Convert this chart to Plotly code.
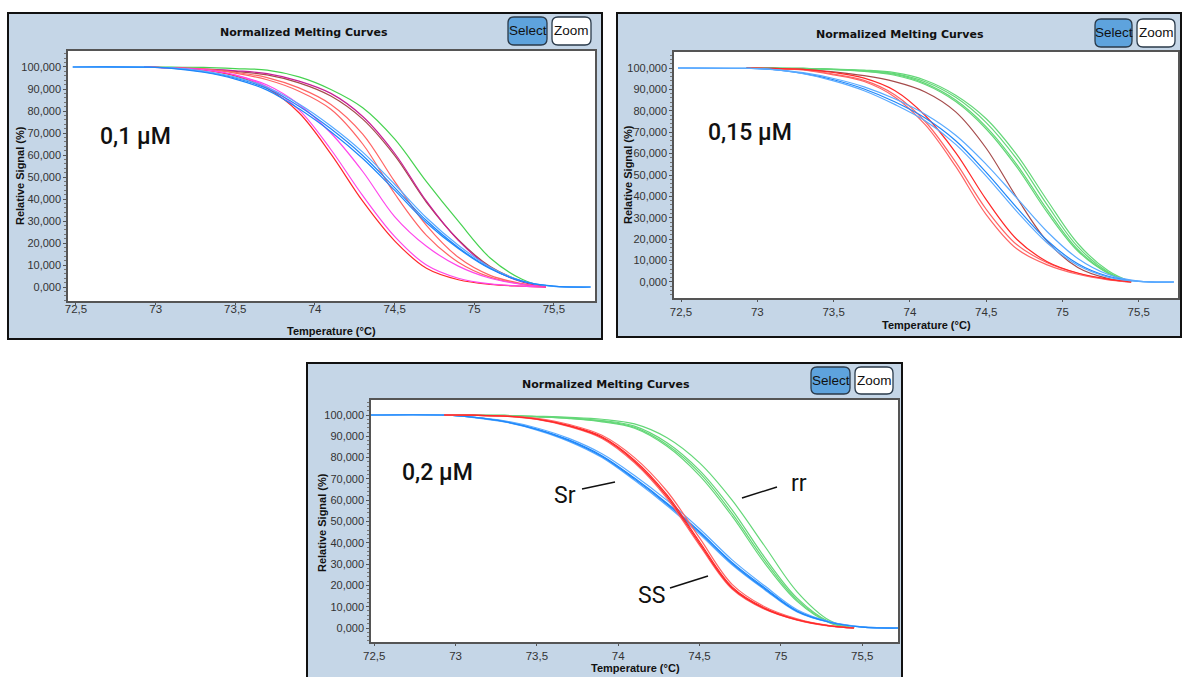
import plotly.graph_objects as go

W, H = 1182, 677

# ---------------- data ----------------
# temperatures (°C) at which the curves were read
T_OTHER = [72.93, 73.1, 73.3, 73.5, 73.7, 73.9, 74.1, 74.3, 74.5, 74.7, 74.9, 75.1, 75.3, 75.45]
T_BLUE = [72.48, 72.95, 73.1, 73.3, 73.5, 73.7, 73.9, 74.1, 74.3, 74.5, 74.7, 74.9, 75.1, 75.3, 75.5, 75.73]

# panel 1 : 0,1 µM
P1_GREEN = [100, 99.9, 99.8, 99.3, 98.6, 95.5, 89.8, 81.5, 67.3, 47.9, 29.9, 13.2, 3.5, 0]
P1_MAGENTA = [100, 99.7, 99.1, 98.3, 97.0, 93.6, 88.0, 77.5, 60.8, 39.0, 21.2, 8.8, 2.3, 0]
P1_BROWN = [100, 99.6, 98.9, 98.0, 96.4, 92.8, 86.8, 76.3, 59.8, 38.5, 21.5, 9.3, 2.6, 0]
P1_RED1 = [100, 99.6, 99.0, 97.6, 95.2, 90.5, 83.0, 69.5, 48.0, 28.0, 13.5, 5.3, 1.5, 0]
P1_RED2 = [100, 99.6, 99.1, 97.2, 94.2, 89.0, 80.8, 65.0, 42.5, 23.5, 11.3, 4.5, 1.3, 0]
P1_PINK1 = [100, 99.5, 98.7, 96.3, 91.8, 83.0, 70.0, 52.5, 32.0, 18.5, 9.5, 4.0, 1.2, 0]
P1_RED3 = [100, 99.5, 98.7, 96.0, 90.3, 79.2, 60.5, 39.0, 21.0, 8.5, 3.3, 1.2, 0.4, 0]
P1_PINK2 = [100, 99.5, 98.8, 96.3, 91.0, 80.5, 62.5, 41.5, 23.0, 10.0, 4.0, 1.4, 0.4, 0]
P1_BLUE1 = [100, 99.9, 99.5, 97.9, 95.0, 90.2, 82.2, 71.9, 59.8, 45.2, 30.2, 18.0, 8.5, 2.6, 0.3, 0]
P1_BLUE2 = [100, 99.9, 99.6, 98.1, 95.4, 90.8, 83.2, 73.2, 61.3, 46.7, 31.5, 19.0, 9.0, 2.8, 0.3, 0]
P1_BLUE3 = [100, 99.9, 99.4, 97.6, 94.5, 89.5, 81.0, 70.6, 58.4, 44.0, 29.2, 17.5, 8.3, 2.7, 0.4, 0]

# panel 2 : 0,15 µM
P2_GREEN1 = [100, 99.9, 99.8, 99.4, 98.8, 97.4, 93.6, 86.3, 74.5, 57.5, 36.0, 16.5, 4.6, 0]
P2_GREEN2 = [100, 99.9, 99.8, 99.3, 98.6, 97.0, 92.8, 85.0, 72.5, 55.0, 33.8, 15.2, 4.2, 0]
P2_GREEN3 = [100, 99.9, 99.8, 99.5, 99.0, 97.8, 94.3, 87.3, 76.3, 59.5, 38.2, 18.0, 5.2, 0]
P2_GREEN4 = [100, 99.9, 99.7, 99.2, 98.4, 96.6, 92.3, 84.3, 71.5, 53.8, 32.5, 14.5, 4.0, 0]
P2_BROWN = [100, 99.8, 99.4, 98.2, 96.4, 93.6, 88.8, 79.5, 62.5, 39.5, 19.0, 6.8, 1.6, 0]
P2_RED = [100, 99.8, 99.4, 97.9, 95.3, 89.5, 77.8, 60.5, 38.5, 20.0, 9.5, 4.2, 1.3, 0]
P2_LRED1 = [100, 99.7, 99.1, 96.8, 93.7, 86.5, 73.5, 54.0, 31.5, 15.5, 8.0, 3.6, 1.0, 0]
P2_LRED2 = [100, 99.7, 99.2, 97.1, 94.2, 87.5, 75.0, 56.0, 34.0, 17.5, 9.0, 4.1, 1.2, 0]
P2_BLUE1 = [100, 99.8, 99.3, 97.5, 94.5, 90.2, 84.2, 76.6, 66.0, 51.2, 34.8, 19.4, 8.5, 2.6, 0.3, 0]
P2_BLUE2 = [100, 99.8, 99.4, 97.8, 95.1, 91.2, 85.6, 78.4, 68.6, 55.0, 39.3, 23.5, 11.0, 3.5, 0.4, 0]
P2_BLUE3 = [100, 99.8, 99.2, 97.3, 94.0, 89.4, 83.0, 75.3, 64.3, 49.5, 33.0, 18.2, 7.8, 2.3, 0.3, 0]

# panel 3 : 0,2 µM  (rr = green, SS = red, Sr = blue)
P3_RR1 = [100, 99.9, 99.8, 99.3, 98.6, 97.4, 94.8, 87.0, 74.0, 55.5, 33.2, 14.0, 2.8, 0]
P3_RR2 = [100, 99.9, 99.7, 99.1, 98.3, 96.8, 93.8, 85.3, 71.5, 52.5, 30.5, 12.5, 2.4, 0]
P3_RR3 = [100, 99.9, 99.8, 99.4, 98.9, 98.0, 95.8, 89.3, 77.5, 60.0, 38.5, 17.0, 3.5, 0]
P3_RR4 = [100, 99.9, 99.8, 99.2, 98.5, 97.1, 94.2, 86.0, 72.8, 53.8, 31.8, 13.2, 2.6, 0]
P3_SS1 = [100, 99.9, 99.5, 98.2, 95.0, 89.8, 78.8, 62.5, 40.5, 19.3, 9.4, 4.0, 1.0, 0]
P3_SS2 = [100, 99.9, 99.4, 97.9, 94.5, 89.0, 77.5, 60.8, 38.8, 18.3, 8.8, 3.7, 0.9, 0]
P3_SS3 = [100, 99.9, 99.6, 98.4, 95.5, 90.5, 80.0, 64.2, 42.3, 20.5, 10.0, 4.3, 1.1, 0]
P3_SS4 = [100, 99.9, 99.5, 98.1, 94.8, 89.4, 78.2, 61.7, 39.6, 18.8, 9.1, 3.8, 1.0, 0]
P3_SR1 = [100, 99.9, 99.0, 97.0, 93.4, 88.2, 80.9, 70.4, 58.6, 45.3, 30.8, 18.9, 8.0, 2.8, 0.5, 0]
P3_SR2 = [100, 99.9, 98.9, 96.7, 92.9, 87.5, 80.0, 69.3, 57.4, 44.1, 29.7, 18.0, 7.5, 2.6, 0.4, 0]
P3_SR3 = [100, 99.9, 99.1, 97.3, 93.9, 88.9, 81.8, 71.6, 59.9, 46.6, 32.0, 19.8, 8.6, 3.0, 0.5, 0]
P3_SR4 = [100, 99.9, 99.0, 96.9, 93.2, 87.9, 80.5, 69.9, 58.1, 44.8, 30.3, 18.4, 7.8, 2.7, 0.4, 0]

X_TICKS = [72.5, 73, 73.5, 74, 74.5, 75, 75.5]
X_TICK_LABELS = ["72,5", "73", "73,5", "74", "74,5", "75", "75,5"]
Y_TICKS = [0, 10, 20, 30, 40, 50, 60, 70, 80, 90, 100]
Y_TICK_LABELS = ["0,000", "10,000", "20,000", "30,000", "40,000", "50,000",
                 "60,000", "70,000", "80,000", "90,000", "100,000"]

TITLE = "Normalized Melting Curves"
X_TITLE = "Temperature (°C)"
Y_TITLE = "Relative Signal (%)"
CONC_LABELS = ["0,1 µM", "0,15 µM", "0,2 µM"]

# ---------------- styling ----------------
GREEN = "rgb(70,210,80)"
LGREEN = "rgb(100,215,120)"
RED = "rgb(255,40,40)"
LRED = "rgb(255,100,100)"
PINK = "rgb(255,70,235)"
MAGENTA = "rgb(200,30,150)"
BROWN = "rgb(165,75,75)"
BLUE = "rgb(30,135,250)"
LBLUE = "rgb(90,170,255)"
FRAME = "#c5d6e7"
TICKFONT = "Liberation Sans, Arial, sans-serif"
TITLEFONT = "DejaVu Sans, Verdana, sans-serif"
BOLDFONT = "Liberation Sans, Arial, sans-serif"
BIGFONT = "Roboto, Noto Sans, sans-serif"


def fx(px):
    return px / W


def fy(py):
    return 1 - py / H


# panel geometry in pixels
PANELS = [
    dict(frame=(8, 13, 602, 339), plot=(68, 51, 595, 301), xr=[72.45, 75.758], yr=[-6.36, 107.27],
         title=(304, 33), xt=(332, 331), yt=(20, 176), sel=(508, 17, 547, 45), zoom=(552, 17, 591, 45),
         conc=(135, 137), standoff=-6),
    dict(frame=(617, 13, 1181, 337), plot=(674, 52, 1178, 298), xr=[72.454, 75.757], yr=[-7.48, 107.48],
         title=(900, 35), xt=(926, 325), yt=(628, 175), sel=(1095, 19, 1132, 47), zoom=(1137, 19, 1175, 47),
         conc=(750, 133), standoff=0),
    dict(frame=(307, 363, 902, 700), plot=(371, 400, 898, 642), xr=[72.48, 75.72], yr=[-6.57, 107.04],
         title=(606, 384), xt=(635, 668), yt=(322, 523), sel=(811, 367, 850, 394), zoom=(855, 367, 893, 394),
         conc=(437, 472), standoff=0),
]

fig = go.Figure()


def add(panel, xs, ys, color, width=1.2):
    suffix = "" if panel == 0 else str(panel + 1)
    fig.add_trace(go.Scatter(x=xs, y=ys, mode="lines",
                             line=dict(color=color, width=width, shape="spline", smoothing=1.0),
                             xaxis="x" + suffix, yaxis="y" + suffix, showlegend=False, hoverinfo="skip"))


# panel 1
add(0, T_OTHER, P1_GREEN, GREEN)
add(0, T_OTHER, P1_BROWN, BROWN)
add(0, T_OTHER, P1_MAGENTA, MAGENTA)
add(0, T_OTHER, P1_RED1, LRED)
add(0, T_OTHER, P1_RED2, LRED)
add(0, T_OTHER, P1_PINK1, PINK)
add(0, T_OTHER, P1_RED3, RED)
add(0, T_OTHER, P1_PINK2, PINK)
add(0, T_BLUE, P1_BLUE1, BLUE)
add(0, T_BLUE, P1_BLUE2, LBLUE)
add(0, T_BLUE, P1_BLUE3, BLUE)

# panel 2
for s in (P2_GREEN1, P2_GREEN2, P2_GREEN3, P2_GREEN4):
    add(1, T_OTHER, s, LGREEN)
add(1, T_OTHER, P2_BROWN, BROWN)
add(1, T_OTHER, P2_LRED1, LRED)
add(1, T_OTHER, P2_LRED2, LRED)
add(1, T_OTHER, P2_RED, RED)
add(1, T_BLUE, P2_BLUE1, BLUE)
add(1, T_BLUE, P2_BLUE2, LBLUE)
add(1, T_BLUE, P2_BLUE3, LBLUE)

# panel 3
for s in (P3_RR1, P3_RR2, P3_RR3, P3_RR4):
    add(2, T_OTHER, s, LGREEN)
for s, c in ((P3_SR1, BLUE), (P3_SR2, LBLUE), (P3_SR3, LBLUE), (P3_SR4, BLUE)):
    add(2, T_BLUE, s, c)
for s, c in ((P3_SS1, RED), (P3_SS2, LRED), (P3_SS3, LRED), (P3_SS4, RED)):
    add(2, T_OTHER, s, c)

shapes = []
annotations = []


def button(box, fill, label):
    x0, y0, x1, y1 = box
    r = 6
    rx, ry = r / W, r / H
    X0, X1, Y0, Y1 = fx(x0), fx(x1), fy(y1), fy(y0)
    path = (f"M {X0+rx},{Y0} L {X1-rx},{Y0} Q {X1},{Y0} {X1},{Y0+ry} L {X1},{Y1-ry} "
            f"Q {X1},{Y1} {X1-rx},{Y1} L {X0+rx},{Y1} Q {X0},{Y1} {X0},{Y1-ry} "
            f"L {X0},{Y0+ry} Q {X0},{Y0} {X0+rx},{Y0} Z")
    shapes.append(dict(type="path", xref="paper", yref="paper", path=path, fillcolor=fill,
                       line=dict(color="#2a3a4a", width=1.3), layer="above"))
    annotations.append(dict(x=fx((x0 + x1) / 2), y=fy((y0 + y1) / 2), xref="paper", yref="paper",
                            text=label, showarrow=False, xanchor="center", yanchor="middle",
                            font=dict(family=TICKFONT, size=13.5, color="#111")))


layout_axes = {}
for i, p in enumerate(PANELS):
    fx0, fy0, fx1, fy1 = p["frame"]
    shapes.append(dict(type="rect", xref="paper", yref="paper", x0=fx(fx0), x1=fx(fx1), y0=fy(fy1), y1=fy(fy0),
                       fillcolor=FRAME, line=dict(color="#111", width=2), layer="below"))
    px0, py0, px1, py1 = p["plot"]
    shapes.append(dict(type="rect", xref="paper", yref="paper", x0=fx(px0), x1=fx(px1), y0=fy(py1), y1=fy(py0),
                       fillcolor="white", line=dict(width=0), layer="below"))
    suffix = "" if i == 0 else str(i + 1)
    layout_axes["xaxis" + suffix] = dict(
        domain=[fx(px0), fx(px1)], anchor="y" + suffix, range=p["xr"], tickvals=X_TICKS, ticktext=X_TICK_LABELS,
        showline=True, mirror=True, linecolor="#555", linewidth=1.5, ticks="outside", ticklen=2, tickcolor="#555",
        showgrid=False, zeroline=False, automargin=False, ticklabelstandoff=p["standoff"],
        tickfont=dict(family=TICKFONT, size=11.5, color="#333"))
    layout_axes["yaxis" + suffix] = dict(
        domain=[fy(py1), fy(py0)], anchor="x" + suffix, range=p["yr"], tickvals=Y_TICKS, ticktext=Y_TICK_LABELS,
        showline=True, mirror=True, linecolor="#555", linewidth=1.5, ticks="outside", ticklen=3, tickcolor="#555",
        minor=dict(ticks="outside", ticklen=2, dtick=2, tickcolor="#777"),
        showgrid=False, zeroline=False, automargin=False,
        tickfont=dict(family=TICKFONT, size=11, color="#333"))
    tx, ty = p["title"]
    annotations.append(dict(x=fx(tx), y=fy(ty), xref="paper", yref="paper", text="<b>" + TITLE + "</b>",
                            showarrow=False, xanchor="center", yanchor="middle",
                            font=dict(family=TITLEFONT, size=11, color="#111")))
    xx, xy = p["xt"]
    annotations.append(dict(x=fx(xx), y=fy(xy), xref="paper", yref="paper", text="<b>" + X_TITLE + "</b>",
                            showarrow=False, xanchor="center", yanchor="middle",
                            font=dict(family=BOLDFONT, size=11, color="#111")))
    yx, yy = p["yt"]
    annotations.append(dict(x=fx(yx), y=fy(yy), xref="paper", yref="paper", text="<b>" + Y_TITLE + "</b>",
                            showarrow=False, xanchor="center", yanchor="middle", textangle=-90,
                            font=dict(family=BOLDFONT, size=11, color="#111")))
    cx, cy = p["conc"]
    annotations.append(dict(x=fx(cx), y=fy(cy), xref="paper", yref="paper", text=CONC_LABELS[i],
                            showarrow=False, xanchor="center", yanchor="middle",
                            font=dict(family=BIGFONT, size=23, color="#111", weight=500)))
    button(p["sel"], "#5ea3dd", "Select")
    button(p["zoom"], "white", "Zoom")

# genotype labels and pointer lines in panel 3
GENO = [("Sr", (565, 495), (582, 489, 615, 482)),
        ("rr", (799, 483), (742, 498, 777, 487)),
        ("SS", (651, 595), (670, 588, 708, 576))]
for label, (lx, ly), (x0, y0, x1, y1) in GENO:
    annotations.append(dict(x=fx(lx), y=fy(ly), xref="paper", yref="paper", text=label, showarrow=False,
                            xanchor="center", yanchor="middle", font=dict(family=BIGFONT, size=23, color="#111")))
    shapes.append(dict(type="line", xref="paper", yref="paper", x0=fx(x0), y0=fy(y0), x1=fx(x1), y1=fy(y1),
                       line=dict(color="#111", width=1.5), layer="above"))

fig.update_layout(width=W, height=H, autosize=False, margin=dict(l=0, r=0, t=0, b=0, pad=0),
                  paper_bgcolor="white", plot_bgcolor="rgba(0,0,0,0)", shapes=shapes,
                  annotations=annotations, showlegend=False, **layout_axes)

fig.write_html("out.html")
